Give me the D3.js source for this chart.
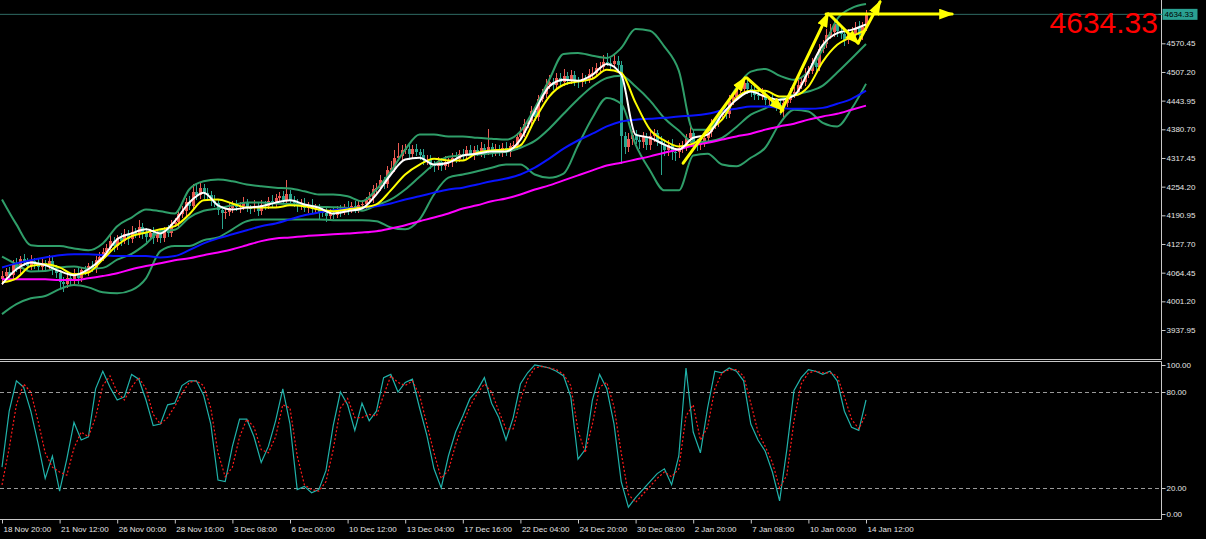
<!DOCTYPE html>
<html><head><meta charset="utf-8">
<script src="https://cdn.jsdelivr.net/npm/d3@7"></script>
<style>html,body{margin:0;padding:0;background:#000;overflow:hidden}svg{display:block}</style>
</head><body><svg id="c" width="1206" height="539"></svg>
<script>
// ---------- DATA ----------
const firstOpen = 4050;
const closes = [
4058,4066,4060,4083,4072,4094,4088,4079,4090,4084,
4076,4085,4080,4091,4070,4064,4044,4040,4052,4046,
4064,4052,4070,4066,4079,4074,4092,4098,4110,4118,
4134,4124,4140,4135,4150,4138,4155,4150,4166,4152,
4144,4153,4140,4150,4142,4157,4152,4172,4176,4194,
4200,4221,4212,4243,4236,4252,4240,4236,4222,4218,
4202,4195,4199,4206,4214,4209,4212,4218,4207,4206,
4212,4200,4214,4212,4222,4218,4229,4234,4225,4238,
4222,4218,4212,4216,4208,4214,4204,4207,4198,4196,
4190,4195,4192,4204,4200,4210,4203,4212,4206,4214,
4215,4224,4230,4248,4252,4268,4260,4290,4296,4318,
4322,4335,4338,4326,4338,4330,4325,4312,4314,4303,
4299,4309,4300,4308,4310,4318,4316,4326,4322,4334,
4326,4336,4330,4340,4331,4342,4330,4338,4332,4340,
4330,4343,4346,4364,4372,4392,4398,4420,4408,4448,
4458,4478,4484,4478,4494,4485,4499,4489,4501,4487,
4484,4492,4490,4503,4506,4516,4518,4530,4528,4524,
4532,4522,4365,4342,4360,4368,4358,4352,4364,4346,
4366,4372,4355,4349,4336,4347,4331,4330,4340,4343,
4362,4372,4352,4345,4350,4362,4374,4390,4394,4412,
4418,4414,4444,4452,4468,4470,4483,4470,4465,4456,
4455,4458,4446,4447,4437,4435,4425,4439,4446,4459,
4464,4478,4484,4502,4510,4528,4518,4558,4568,4588,
4596,4612,4598,4590,4578,4590,4591,4605,4588,4607,
4634.33];
const upWicks = [
10,8,12,9,13,8,11,9,14,7, 10,12,8,13,9,11,7,10,12,8,
9,13,8,10,7,12,9,11,8,10, 13,9,7,11,10,8,12,9,14,8,
10,7,12,9,11,8,13,9,10,8, 11,9,12,16,18,10,8,11,9,13,
8,10,7,12,9,11,8,13,10,7, 12,9,11,8,10,13,9,8,11,30,
9,11,8,10,13,7,12,9,10,8, 11,9,13,8,10,7,12,9,11,8,
10,8,12,9,11,13,8,10,14,16, 28,12,10,13,9,11,8,12,9,10,
8,11,9,13,7,10,12,8,11,9, 13,8,10,12,9,40,8,11,9,10,
12,8,10,9,13,11,8,12,10,9, 11,13,16,9,12,10,14,9,11,8,
10,12,9,11,13,10,12,14,18,10, 13,11,10,9,13,10,12,8,11,9,
13,10,8,12,9,11,13,8,10,12, 9,14,10,8,12,9,11,13,10,9,
12,10,13,9,11,14,10,12,8,11, 9,13,10,8,12,9,11,10,8,13,
9,12,10,13,11,9,14,12,10,13, 16,12,14,10,13,11,16,12,14,11,
10];
const downWicks = [
12,9,8,11,7,13,9,10,8,12, 9,7,11,8,10,12,13,18,9,11,
8,12,9,7,10,8,11,9,7,10, 8,13,9,11,7,12,8,10,9,13,
11,8,13,9,12,10,8,9,7,10, 8,11,9,7,12,10,13,9,11,8,
10,35,12,9,11,8,13,10,9,12, 8,11,9,10,7,9,12,8,10,9,
11,8,13,9,10,12,8,11,15,9, 13,8,10,7,12,9,11,8,10,9,
8,10,7,11,9,8,12,9,7,10, 8,11,9,13,10,8,12,9,11,10,
13,9,11,8,10,12,9,7,11,10, 8,12,9,10,13,8,11,9,10,12,
9,11,8,10,7,9,8,10,9,8, 7,9,8,11,9,12,8,10,9,11,
12,9,10,8,9,7,8,9,7,11, 9,10,60,15,11,13,10,14,12,11,
10,13,12,70,15,14,18,20,13,11, 10,12,15,13,11,9,8,10,9,8,
9,11,8,10,9,8,10,12,13,11, 10,9,12,11,10,13,12,17,9,8,
10,8,9,7,9,8,10,9,8,7, 9,12,14,11,13,10,12,14,11,10,
9];
// indicators, one value every 4 bars
const maWhite = [4039,4072,4087,4081,4068,4059,4072,4098,4138,4151,
4160,4151,4178,4219,4241,4213,4204,4208,4211,4219,
4224,4215,4208,4195,4200,4206,4237,4281,4314,4318,
4303,4307,4323,4327,4332,4332,4358,4420,4475,4490,
4488,4501,4525,4501,4369,4362,4347,4336,4362,4369,
4413,4446,4464,4453,4446,4455,4508,4567,4593,4600,4612];
const maYellow = [4043,4052,4079,4083,4076,4061,4065,4094,4125,4145,
4153,4160,4167,4193,4224,4226,4217,4208,4208,4208,
4213,4211,4204,4200,4204,4208,4215,4246,4281,4303,
4316,4312,4312,4329,4334,4336,4345,4402,4453,4479,
4486,4492,4512,4505,4439,4380,4356,4343,4349,4376,
4402,4450,4466,4466,4453,4455,4475,4530,4567,4585,4600];
const maBlue = [4076,4085,4092,4098,4103,4105,4105,4103,4101,4101,
4101,4098,4101,4114,4129,4140,4149,4158,4167,4173,
4182,4191,4197,4202,4206,4208,4211,4217,4226,4233,
4241,4248,4252,4259,4266,4272,4281,4296,4316,4338,
4356,4371,4387,4398,4402,4404,4406,4409,4411,4415,
4422,4426,4431,4431,4428,4426,4426,4428,4437,4448,4466];
const maMagenta = [4050,4050,4050,4050,4048,4048,4052,4057,4063,4072,
4079,4085,4092,4096,4103,4109,4116,4125,4134,4140,
4142,4145,4147,4149,4151,4153,4156,4162,4169,4178,
4186,4195,4206,4213,4222,4228,4237,4248,4257,4268,
4279,4290,4301,4307,4314,4321,4329,4336,4345,4351,
4358,4365,4371,4380,4387,4393,4402,4409,4415,4424,4433];
const bbUpper = [4226,4171,4125,4123,4123,4118,4114,4129,4167,4186,
4204,4200,4195,4248,4266,4270,4266,4259,4255,4252,
4250,4244,4237,4237,4233,4222,4248,4288,4336,4369,
4369,4365,4365,4362,4360,4358,4376,4428,4490,4547,
4549,4543,4538,4560,4602,4598,4563,4510,4380,4380,
4420,4472,4508,4514,4499,4490,4508,4558,4624,4648,4657];
const bbMiddle = [4100,4083,4067,4068,4076,4078,4073,4075,4093,4106,
4128,4156,4159,4186,4201,4206,4213,4219,4219,4217,
4216,4213,4210,4209,4207,4201,4213,4226,4248,4276,
4303,4320,4323,4325,4328,4331,4340,4355,4382,4415,
4447,4475,4494,4499,4475,4444,4405,4378,4352,4354,
4362,4386,4413,4427,4446,4457,4464,4477,4506,4537,4569];
const bbLower = [3973,3995,4008,4013,4028,4037,4032,4021,4019,4026,
4052,4112,4123,4123,4136,4142,4160,4178,4182,4182,
4182,4182,4182,4180,4180,4180,4178,4164,4160,4182,
4237,4274,4281,4288,4296,4303,4303,4281,4274,4283,
4345,4406,4450,4437,4347,4290,4246,4246,4323,4327,
4303,4299,4318,4340,4393,4424,4420,4395,4387,4426,4481];
// stochastic, one value every 2 bars
const stochMain = [33,68,87,83,68,48,26,40,18,38,
61,50,52,82,93,83,75,77,91,88,
75,59,60,72,73,84,87,87,78,60,
25,24,46,63,63,52,36,46,62,82,
60,19,21,17,19,31,59,80,72,56,
73,62,68,89,91,80,86,88,70,53,
32,20,40,55,65,76,81,89,73,64,
50,64,85,92,97,96,95,93,90,77,
38,44,75,91,82,60,24,8,14,19,
24,29,32,22,40,95,55,42,70,93,
92,95,93,87,60,50,43,30,12,44,
81,89,94,93,91,93,87,68,58,56,
75];
const stochSignal = [22,45,72,85,80,62,42,33,30,28,
45,55,52,64,84,90,80,75,83,89,
82,66,60,64,71,79,86,87,84,70,
42,27,33,52,63,58,44,42,52,72,
70,40,22,19,18,24,44,70,76,64,
64,66,65,78,90,86,84,87,78,60,
42,26,31,47,60,71,79,85,80,68,
57,57,75,88,95,96,95,94,91,84,
56,42,60,83,86,71,42,16,11,16,
21,26,30,27,32,65,72,50,58,82,
92,94,94,90,73,55,46,36,20,28,
62,85,92,93,92,92,90,77,63,57,
66];
const priceTicks = [3937.95,4001.20,4064.45,4127.70,4190.95,4254.20,4317.45,4380.70,4443.95,4507.20,4570.45];
const stochTicks = [100,80,20,0];
const stochLevels = [80,20];
const timeLabels = ["18 Nov 20:00","21 Nov 12:00","26 Nov 00:00","28 Nov 16:00","3 Dec 08:00","6 Dec 00:00","10 Dec 12:00","13 Dec 04:00","17 Dec 16:00","22 Dec 04:00","24 Dec 20:00","30 Dec 08:00","2 Jan 20:00","7 Jan 08:00","10 Jan 00:00","14 Jan 12:00"];
const labelEveryBars = 16;
const currentPrice = 4634.33;
// hand-drawn trend arrows: [barIndex, price] -> [barIndex, price]
const arrows = [
  [[189.2,4306],[206.4,4494]],
  [[206.9,4494],[216.9,4423]],
  [[216.4,4419],[229.4,4635]],
  [[228.9,4635],[263.9,4635]],
  [[230.0,4633],[237.8,4571]],
  [[237.8,4571],[243.9,4662]]
];

// ---------- LAYOUT ----------
const W = 1206, H = 539;
const axisX = 1161.5;
const mainBottom = 359.5, subTop = 361.5, subBottom = 519.5;
const svg = d3.select("#c");
const FONT = "'Liberation Sans', Arial, sans-serif";
const axisColor = "#c8c8c8";
const textColor = "#e6e6e6";

const x = d3.scaleLinear().domain([0, closes.length - 1]).range([2, 866]);
const yP = d3.scaleLinear().domain([3937.95, 4570.45]).range([330, 43.3]);
const yS = d3.scaleLinear().domain([0, 100]).range([520, 360]);

const defs = svg.append("defs");
defs.append("clipPath").attr("id","mainClip").append("rect").attr("x",0).attr("y",0).attr("width",axisX).attr("height",mainBottom);
defs.append("clipPath").attr("id","subClip").append("rect").attr("x",0).attr("y",subTop+0.5).attr("width",axisX).attr("height",subBottom-subTop-1);
defs.append("marker").attr("id","ah").attr("viewBox","0 0 14 10").attr("refX",12).attr("refY",5)
  .attr("markerUnits","userSpaceOnUse").attr("markerWidth",15).attr("markerHeight",11).attr("orient","auto")
  .append("path").attr("d","M0,0 L14,5 L0,10 Z").attr("fill","#ffff00");

svg.append("rect").attr("width",W).attr("height",H).attr("fill","#000");

const main = svg.append("g").attr("clip-path","url(#mainClip)");

// current price line
main.append("line").attr("x1",0).attr("x2",axisX).attr("y1",yP(currentPrice)).attr("y2",yP(currentPrice))
  .attr("stroke","#2f6b64").attr("stroke-width",1);

// candles
const bars = closes.map((c,i)=>{
  const o = i === 0 ? firstOpen : closes[i-1];
  return {i, o, c, h: Math.max(o,c) + upWicks[i], l: Math.min(o,c) - downWicks[i]};
});
const bullCol = "#eb5a52", bearCol = "#2aa68f";
const cg = main.append("g").attr("shape-rendering","crispEdges");
cg.selectAll("rect.w").data(bars).join("rect").attr("class","w")
  .attr("x", d => Math.round(x(d.i))).attr("width", 1)
  .attr("y", d => yP(d.h)).attr("height", d => Math.max(1, yP(d.l) - yP(d.h)))
  .attr("fill", d => d.c >= d.o ? bullCol : bearCol);
cg.selectAll("rect.b").data(bars).join("rect").attr("class","b")
  .attr("x", d => Math.round(x(d.i)) - 1).attr("width", 3)
  .attr("y", d => yP(Math.max(d.o,d.c))).attr("height", d => Math.max(1, Math.abs(yP(d.o) - yP(d.c))))
  .attr("fill", d => d.c >= d.o ? bullCol : bearCol);

// indicator lines
const line4 = d3.line().x((d,k)=>x(k*4)).y(d=>yP(d)).curve(d3.curveMonotoneX);
function drawLine(arr, color, w){
  main.append("path").attr("d", line4(arr)).attr("fill","none").attr("stroke",color).attr("stroke-width",w).attr("stroke-linejoin","round");
}
const bbCol = "#2f9e69";
drawLine(bbUpper, bbCol, 2);
drawLine(bbMiddle, bbCol, 2);
drawLine(bbLower, bbCol, 2);
drawLine(maMagenta, "#ff00ff", 2);
drawLine(maBlue, "#0a14ff", 2);
drawLine(maYellow, "#ffff00", 2);
drawLine(maWhite, "#ffffff", 2);

// arrows
const ag = svg.append("g");
ag.selectAll("line").data(arrows).join("line")
  .attr("x1", d=>x(d[0][0])).attr("y1", d=>yP(d[0][1]))
  .attr("x2", d=>x(d[1][0])).attr("y2", d=>yP(d[1][1]))
  .attr("stroke","#ffff00").attr("stroke-width",3).attr("stroke-linecap","round")
  .attr("marker-end","url(#ah)");

// big price text
svg.append("text").attr("x",1158).attr("y",33).attr("text-anchor","end")
  .attr("font-family",FONT).attr("font-size",30).attr("fill","#ff0000").text(currentPrice.toFixed(2));

// ---------- stochastic panel ----------
const sub = svg.append("g").attr("clip-path","url(#subClip)");
sub.selectAll("line.lv").data(stochLevels).join("line").attr("class","lv")
  .attr("x1",0).attr("x2",axisX).attr("y1",d=>Math.round(yS(d))+0.5).attr("y2",d=>Math.round(yS(d))+0.5)
  .attr("stroke","#9a9a9a").attr("stroke-width",1).attr("stroke-dasharray","4,3");
const line2 = d3.line().x((d,k)=>x(k*2)).y(d=>yS(d));
sub.append("path").attr("d", line2(stochMain)).attr("fill","none").attr("stroke","#20b2aa").attr("stroke-width",1.2);
sub.append("path").attr("d", line2(stochSignal)).attr("fill","none").attr("stroke","#ff1a1a").attr("stroke-width",1.2).attr("stroke-dasharray","2,2");

// ---------- frames ----------
const fr = svg.append("g").attr("stroke",axisColor).attr("stroke-width",1).attr("fill","none");
fr.append("line").attr("x1",0).attr("x2",axisX).attr("y1",mainBottom).attr("y2",mainBottom);
fr.append("line").attr("x1",0).attr("x2",axisX).attr("y1",subTop).attr("y2",subTop);
fr.append("line").attr("x1",0).attr("x2",axisX).attr("y1",subBottom).attr("y2",subBottom);
fr.append("line").attr("x1",axisX).attr("x2",axisX).attr("y1",0).attr("y2",mainBottom);
fr.append("line").attr("x1",axisX).attr("x2",axisX).attr("y1",subTop).attr("y2",subBottom);

// price axis
const pa = svg.append("g").attr("transform",`translate(${axisX},0)`)
  .call(d3.axisRight(yP).tickValues(priceTicks).tickSize(4).tickSizeOuter(0).tickPadding(1).tickFormat(d=>d.toFixed(2)));
pa.select(".domain").remove();
pa.selectAll("line").attr("stroke",axisColor);
pa.selectAll("text").attr("fill",textColor).attr("font-family",FONT).attr("font-size",8);

// current price box
const cpy = yP(currentPrice);
svg.append("rect").attr("x",axisX+1).attr("y",cpy-5.5).attr("width",35).attr("height",11).attr("fill","#2aa192");
svg.append("line").attr("x1",axisX-3).attr("x2",axisX+1).attr("y1",cpy).attr("y2",cpy).attr("stroke","#2aa192");
svg.append("text").attr("x",axisX+3).attr("y",cpy+3).attr("font-family",FONT).attr("font-size",8).attr("fill","#000").text(currentPrice.toFixed(2));

// stochastic axis
const sa = svg.append("g").attr("transform",`translate(${axisX},0)`)
  .call(d3.axisRight(yS).tickValues(stochTicks).tickSize(4).tickSizeOuter(0).tickPadding(1).tickFormat(d=>d.toFixed(2)));
sa.select(".domain").remove();
sa.selectAll(".tick").filter(d=>d===100).attr("transform",`translate(0,${yS(100)+5.5})`);
sa.selectAll(".tick").filter(d=>d===0).attr("transform",`translate(0,${yS(0)-5.5})`);
sa.selectAll("line").attr("stroke",axisColor);
sa.selectAll("text").attr("fill",textColor).attr("font-family",FONT).attr("font-size",8);

// time axis
const tIdx = timeLabels.map((_,k)=>k*labelEveryBars);
const ta = svg.append("g").attr("transform",`translate(0,${subBottom})`)
  .call(d3.axisBottom(x).tickValues(tIdx).tickSize(4).tickSizeOuter(0).tickPadding(3).tickFormat((d,k)=>timeLabels[k]));
ta.select(".domain").remove();
ta.selectAll("line").attr("stroke",axisColor);
ta.selectAll("text").attr("fill",textColor).attr("font-family",FONT).attr("font-size",8).attr("text-anchor","start").attr("dx",1);
</script>
</body></html>
